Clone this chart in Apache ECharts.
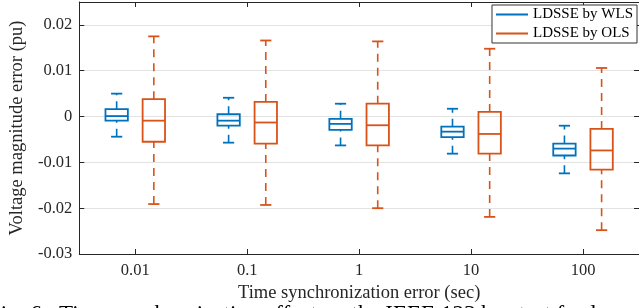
<!DOCTYPE html>
<html>
<head>
<meta charset="utf-8">
<script src="https://cdn.jsdelivr.net/npm/echarts@6/dist/echarts.min.js"></script>
<style>
html,body{margin:0;padding:0;background:#fff;}
#main{width:639px;height:308px;}
</style>
</head>
<body>
<div id="main"></div>
<script>
// Data: [min, q1, median, q3, max]
var categories = ['0.01', '0.1', '1', '10', '100'];
var wlsStats = [
  [-0.0044, -0.0009,  0.0001,  0.0016,  0.0050],
  [-0.0057, -0.0020, -0.0009,  0.0005,  0.0041],
  [-0.0063, -0.0029, -0.0016, -0.0005,  0.0028],
  [-0.0081, -0.0045, -0.0033, -0.0022,  0.0017],
  [-0.0124, -0.0085, -0.0070, -0.0059, -0.0020]
];
var olsStats = [
  [-0.0191, -0.0055, -0.0009,  0.0038,  0.0175],
  [-0.0193, -0.0059, -0.0013,  0.0032,  0.0166],
  [-0.0200, -0.0063, -0.0019,  0.0028,  0.0164],
  [-0.0219, -0.0081, -0.0038,  0.0010,  0.0148],
  [-0.0248, -0.0116, -0.0074, -0.0027,  0.0106]
];
var yTicks = [-0.03, -0.02, -0.01, 0, 0.01, 0.02];
var seriesNames = ['LDSSE by WLS', 'LDSSE by OLS'];
var caption = 'Fig. 6.  Time synchronization effect on the IEEE 123 bus test feeder.';

var FONT = '"Liberation Serif", "Times New Roman", serif';
var TXT = '#262626';

function toRows(stats) {
  return stats.map(function (s, i) { return [i].concat(s); });
}

function makeRender(offsetFrac) {
  return function (params, api) {
    var ci = api.value(0);
    var band = api.size([1, 0])[0];
    var cx = api.coord([ci, 0])[0] + offsetFrac * band;
    function yy(k) { return api.coord([ci, api.value(k)])[1]; }
    var yMin = yy(1), yQ1 = yy(2), yMed = yy(3), yQ3 = yy(4), yMax = yy(5);
    var hw = band * 0.1;
    var cw = band * 0.05;
    var color = api.visual('color');
    var solid = { stroke: color, lineWidth: 1.8, fill: null };
    var dashed = { stroke: color, lineWidth: 1.6, lineDash: [8, 6] };
    return {
      type: 'group',
      children: [
        { type: 'line', shape: { x1: cx, y1: yQ3, x2: cx, y2: yMax }, style: dashed },
        { type: 'line', shape: { x1: cx, y1: yMin, x2: cx, y2: yQ1 }, style: dashed },
        { type: 'line', shape: { x1: cx - cw, y1: yMax, x2: cx + cw, y2: yMax }, style: solid },
        { type: 'line', shape: { x1: cx - cw, y1: yMin, x2: cx + cw, y2: yMin }, style: solid },
        { type: 'rect', shape: { x: cx - hw, y: yQ3, width: 2 * hw, height: yQ1 - yQ3 }, style: solid },
        { type: 'line', shape: { x1: cx - hw, y1: yMed, x2: cx + hw, y2: yMed }, style: solid }
      ]
    };
  };
}

var chart = echarts.init(document.getElementById('main'), null, { renderer: 'canvas' });

var axisLineStyle = { color: TXT, width: 1 };

chart.setOption({
  animation: false,
  backgroundColor: '#fff',
  grid: { left: 69, top: 2, width: 573, height: 252, containLabel: false },
  legend: {
    data: seriesNames,
    orient: 'vertical',
    right: 2,
    top: 5,
    backgroundColor: '#fff',
    borderColor: '#333',
    borderWidth: 1,
    padding: [2, 4, 2, 4],
    itemGap: 4,
    itemWidth: 32,
    itemHeight: 2,
    icon: 'rect',
    textStyle: { fontFamily: FONT, fontSize: 15, color: '#000', padding: [0, 0, 0, 0] }
  },
  xAxis: [
    {
      type: 'category',
      data: categories,
      position: 'bottom',
      boundaryGap: true,
      axisLine: { show: true, onZero: false, lineStyle: axisLineStyle },
      axisTick: { show: true, inside: true, alignWithLabel: true, length: 5, lineStyle: axisLineStyle },
      axisLabel: { fontFamily: FONT, fontSize: 16.5, color: TXT, margin: 8 },
      splitLine: { show: false },
      name: 'Time synchronization error (sec)',
      nameLocation: 'middle',
      nameGap: 15,
      nameTextStyle: { fontFamily: FONT, fontSize: 18.5, color: TXT }
    },
    {
      type: 'category',
      data: categories,
      position: 'top',
      boundaryGap: true,
      axisLine: { show: true, onZero: false, lineStyle: axisLineStyle },
      axisTick: { show: true, inside: true, alignWithLabel: true, length: 5, lineStyle: axisLineStyle },
      axisLabel: { show: false },
      splitLine: { show: false }
    }
  ],
  yAxis: [
    {
      type: 'value',
      min: -0.03,
      max: 0.025,
      interval: 0.01,
      position: 'left',
      axisLine: { show: true, onZero: false, lineStyle: axisLineStyle },
      axisTick: { show: true, inside: true, length: 5, lineStyle: axisLineStyle },
      axisLabel: {
        fontFamily: FONT, fontSize: 16.5, color: TXT, margin: 7,
        formatter: function (v) {
          for (var i = 0; i < yTicks.length; i++) {
            if (Math.abs(v - yTicks[i]) < 1e-9) {
              return yTicks[i] === 0 ? '0' : yTicks[i].toFixed(2);
            }
          }
          return '';
        }
      },
      splitLine: { show: true, lineStyle: { color: '#e3e3e3', width: 1 } },
      name: 'Voltage magnitude error (pu)',
      nameLocation: 'middle',
      nameGap: 47,
      nameTextStyle: { fontFamily: FONT, fontSize: 18.5, color: TXT }
    },
    {
      type: 'value',
      min: -0.03,
      max: 0.025,
      interval: 0.01,
      position: 'right',
      axisLine: { show: true, onZero: false, lineStyle: axisLineStyle },
      axisTick: { show: true, inside: true, length: 5, lineStyle: axisLineStyle },
      axisLabel: { show: false },
      splitLine: { show: false }
    }
  ],
  graphic: [
    {
      type: 'text',
      x: -12,
      y: 303,
      silent: true,
      style: { text: caption, font: '23px "Liberation Serif"', fill: '#000', textVerticalAlign: 'top' }
    }
  ],
  series: [
    {
      name: seriesNames[0],
      type: 'custom',
      xAxisIndex: 0,
      yAxisIndex: 0,
      itemStyle: { color: '#0072BD' },
      renderItem: makeRender(-0.166),
      encode: { x: 0, y: [1, 2, 3, 4, 5] },
      data: toRows(wlsStats),
      z: 3
    },
    {
      name: seriesNames[1],
      type: 'custom',
      xAxisIndex: 0,
      yAxisIndex: 0,
      itemStyle: { color: '#D95319' },
      renderItem: makeRender(0.166),
      encode: { x: 0, y: [1, 2, 3, 4, 5] },
      data: toRows(olsStats),
      z: 3
    }
  ]
});
</script>
</body>
</html>
